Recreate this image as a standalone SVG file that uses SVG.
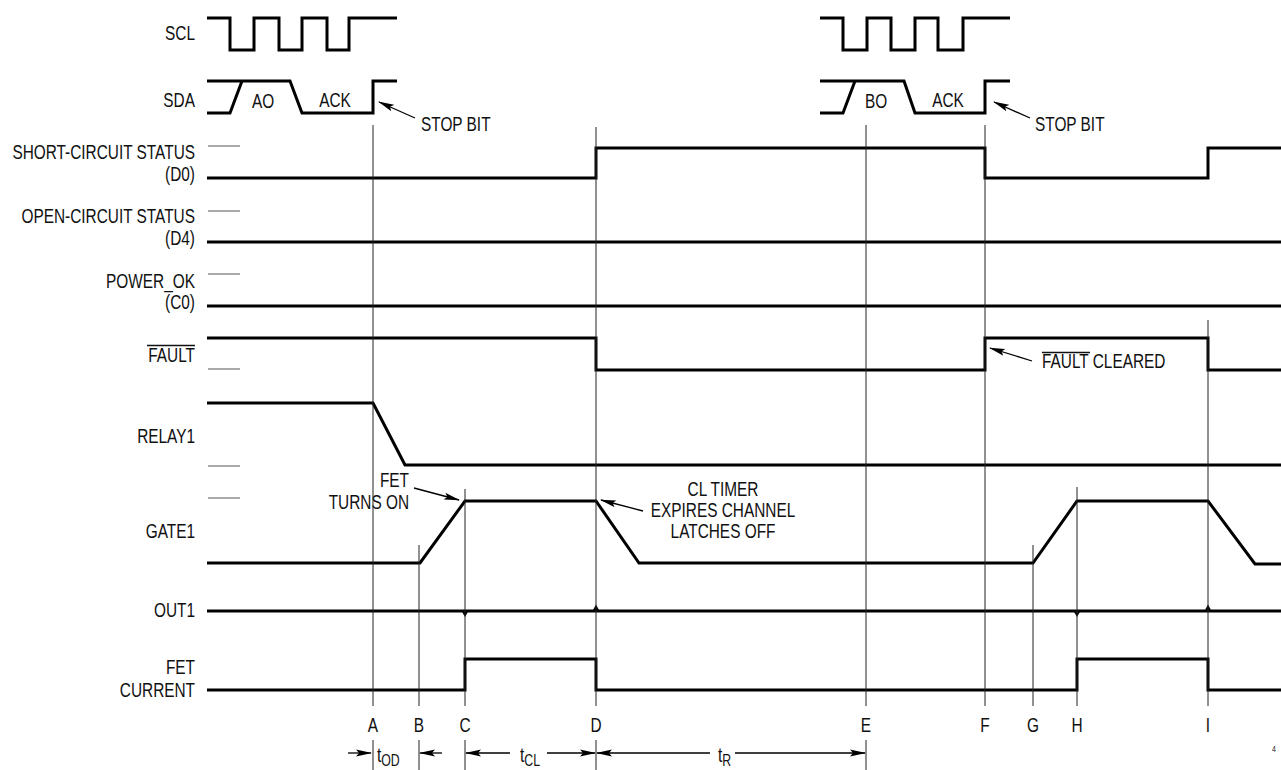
<svg xmlns="http://www.w3.org/2000/svg" width="1281" height="770" viewBox="0 0 1281 770">
<style>
text{font-family:"Liberation Sans",Arial,sans-serif;font-size:20px;fill:#111}
.lbl{text-anchor:end}
.mid{text-anchor:middle}
.sig{fill:none;stroke:#000;stroke-width:3;stroke-linejoin:miter;stroke-linecap:butt}
.mk{fill:none;stroke:#222;stroke-width:1}
.tick{fill:none;stroke:#555;stroke-width:1}
.arr{fill:none;stroke:#000;stroke-width:1.3;marker-end:url(#ah)}
.dim{fill:none;stroke:#000;stroke-width:1.3;marker-end:url(#ah)}
.gl{fill:#000;stroke:none}
</style>
<defs>
<marker id="ah" markerWidth="16" markerHeight="8" refX="15" refY="4" orient="auto" markerUnits="userSpaceOnUse">
<path d="M0,0.5 L16,4 L0,7.5 L3,4 z" fill="#000"/>
</marker>
</defs>
<rect width="1281" height="770" fill="#fff"/>

<g id="scl">
<text class="lbl" transform="translate(195,40) scale(0.77,1)">SCL</text>
<path class="sig" d="M207,18 H230 V50 H254 V18 H279 V50 H302 V18 H327 V50 H349 V18 H397"/>
<path class="sig" d="M820,18 H843 V50 H867 V18 H891 V50 H915 V18 H938 V50 H963 V18 H1010"/>
</g>

<g id="sda">
<text class="lbl" transform="translate(195,107) scale(0.77,1)">SDA</text>
<path class="sig" d="M207,81 H290 L302,113 H373 V81 H397"/>
<path class="sig" d="M207,113 H230 L242,81"/>
<text class="mid" transform="translate(263,108) scale(0.77,1)">AO</text>
<text class="mid" transform="translate(335,107) scale(0.77,1)">ACK</text>
<path class="sig" d="M820,81 H904 L915,113 H985 V81 H1010"/>
<path class="sig" d="M820,113 H843 L855,81"/>
<text class="mid" transform="translate(876,108) scale(0.77,1)">BO</text>
<text class="mid" transform="translate(948,107) scale(0.77,1)">ACK</text>
<text transform="translate(421,131) scale(0.77,1)">STOP BIT</text>
<text transform="translate(1035,131) scale(0.77,1)">STOP BIT</text>
</g>

<g id="short-circuit">
<text class="lbl" transform="translate(195,159) scale(0.77,1)">SHORT-CIRCUIT STATUS</text>
<text class="lbl" transform="translate(195,181) scale(0.77,1)">(D0)</text>
<path class="tick" d="M208,146 H240"/>
<path class="sig" d="M207,178 H596 V148 H985 V178 H1208 V148 H1281"/>
</g>

<g id="open-circuit">
<text class="lbl" transform="translate(195,223) scale(0.77,1)">OPEN-CIRCUIT STATUS</text>
<text class="lbl" transform="translate(195,245) scale(0.77,1)">(D4)</text>
<path class="tick" d="M208,211 H240"/>
<path class="sig" d="M207,242 H1281"/>
</g>

<g id="power-ok">
<text class="lbl" transform="translate(195,288) scale(0.77,1)">POWER_OK</text>
<text class="lbl" transform="translate(195,309) scale(0.77,1)">(C0)</text>
<path class="tick" d="M208,274 H240"/>
<path class="sig" d="M207,306 H1281"/>
</g>

<g id="fault">
<text class="lbl" transform="translate(195,362) scale(0.77,1)">FAULT</text>
<path d="M147,345.5 H195" stroke="#111" stroke-width="1.3"/>
<path class="tick" d="M208,369 H240"/>
<path class="sig" d="M207,338 H596 V370 H985 V338 H1208 V370 H1281"/>
<text transform="translate(1042,368) scale(0.77,1)">FAULT CLEARED</text>
<path d="M1042,352.5 H1090" stroke="#111" stroke-width="1.3"/>
</g>

<g id="relay1">
<text class="lbl" transform="translate(195,443) scale(0.77,1)">RELAY1</text>
<path class="tick" d="M208,466 H240"/>
<path class="sig" d="M207,403 H373 L405,465 H1281"/>
</g>

<g id="gate1">
<text class="lbl" transform="translate(195,538) scale(0.77,1)">GATE1</text>
<path class="tick" d="M208,498 H240"/>
<path class="sig" d="M207,563 H420 L465,501 H596 L639,563 H1033 L1077,501 H1208 L1255,564 H1281"/>
<text class="lbl" transform="translate(409,487) scale(0.77,1)">FET</text>
<text class="lbl" transform="translate(409,509) scale(0.77,1)">TURNS ON</text>
<text class="mid" transform="translate(723,496) scale(0.77,1)">CL TIMER</text>
<text class="mid" transform="translate(723,517) scale(0.77,1)">EXPIRES CHANNEL</text>
<text class="mid" transform="translate(723,538) scale(0.77,1)">LATCHES OFF</text>
</g>

<g id="out1">
<text class="lbl" transform="translate(195,617) scale(0.77,1)">OUT1</text>
<path class="sig" d="M207,611 H1281"/>
<path class="gl" d="M461.5,611 L468.5,611 L465,617 z"/>
<path class="gl" d="M592.5,611 L599.5,611 L596,604.5 z"/>
<path class="gl" d="M1073.5,611 L1080.5,611 L1077,617 z"/>
<path class="gl" d="M1204.5,611 L1211.5,611 L1208,604.5 z"/>
</g>

<g id="fet-current">
<text class="lbl" transform="translate(195,674) scale(0.77,1)">FET</text>
<text class="lbl" transform="translate(195,697) scale(0.77,1)">CURRENT</text>
<path class="sig" d="M207,690 H465 V659 H596 V690 H1077 V659 H1208 V690 H1281"/>
</g>

<g id="markers">
<text class="mid" transform="translate(373,732) scale(0.77,1)">A</text>
<text class="mid" transform="translate(419,732) scale(0.77,1)">B</text>
<text class="mid" transform="translate(465,732) scale(0.77,1)">C</text>
<text class="mid" transform="translate(596,732) scale(0.77,1)">D</text>
<text class="mid" transform="translate(866,732) scale(0.77,1)">E</text>
<text class="mid" transform="translate(985,732) scale(0.77,1)">F</text>
<text class="mid" transform="translate(1033,732) scale(0.77,1)">G</text>
<text class="mid" transform="translate(1077,732) scale(0.77,1)">H</text>
<text class="mid" transform="translate(1208,732) scale(0.77,1)">I</text>
<text transform="translate(377,762) scale(0.77,1)">t<tspan font-size="16" dy="4">OD</tspan></text>
<text transform="translate(520,762) scale(0.77,1)">t<tspan font-size="16" dy="4">CL</tspan></text>
<text transform="translate(718,762) scale(0.77,1)">t<tspan font-size="16" dy="4">R</tspan></text>
<text transform="translate(1272,752) scale(0.77,1)" style="font-size:9px">4</text>
</g>

<g id="connectors">
<path class="mk" d="M373,125 V706 M373,740 V770"/>
<path class="mk" d="M419,545 V706 M419,740 V770"/>
<path class="mk" d="M465,489 V706 M465,740 V770"/>
<path class="mk" d="M596,127 V706 M596,740 V770"/>
<path class="mk" d="M866,125 V706 M866,740 V770"/>
<path class="mk" d="M985,125 V706"/>
<path class="mk" d="M1033,545 V706"/>
<path class="mk" d="M1077,487 V706"/>
<path class="mk" d="M1208,320 V706"/>
<path class="arr" d="M415,118 L379,102"/>
<path class="arr" d="M1030,118 L994,102"/>
<path class="arr" d="M1032,361 L990,348"/>
<path class="arr" d="M414,488 L459,500"/>
<path class="arr" d="M643,511 L601,500"/>
<path class="dim" d="M348,753 H371"/>
<path class="dim" d="M442,753 H420"/>
<path class="dim" d="M510,753 H466"/>
<path class="dim" d="M547,753 H595"/>
<path class="dim" d="M710,753 H597"/>
<path class="dim" d="M735,753 H865"/>
</g>
</svg>
